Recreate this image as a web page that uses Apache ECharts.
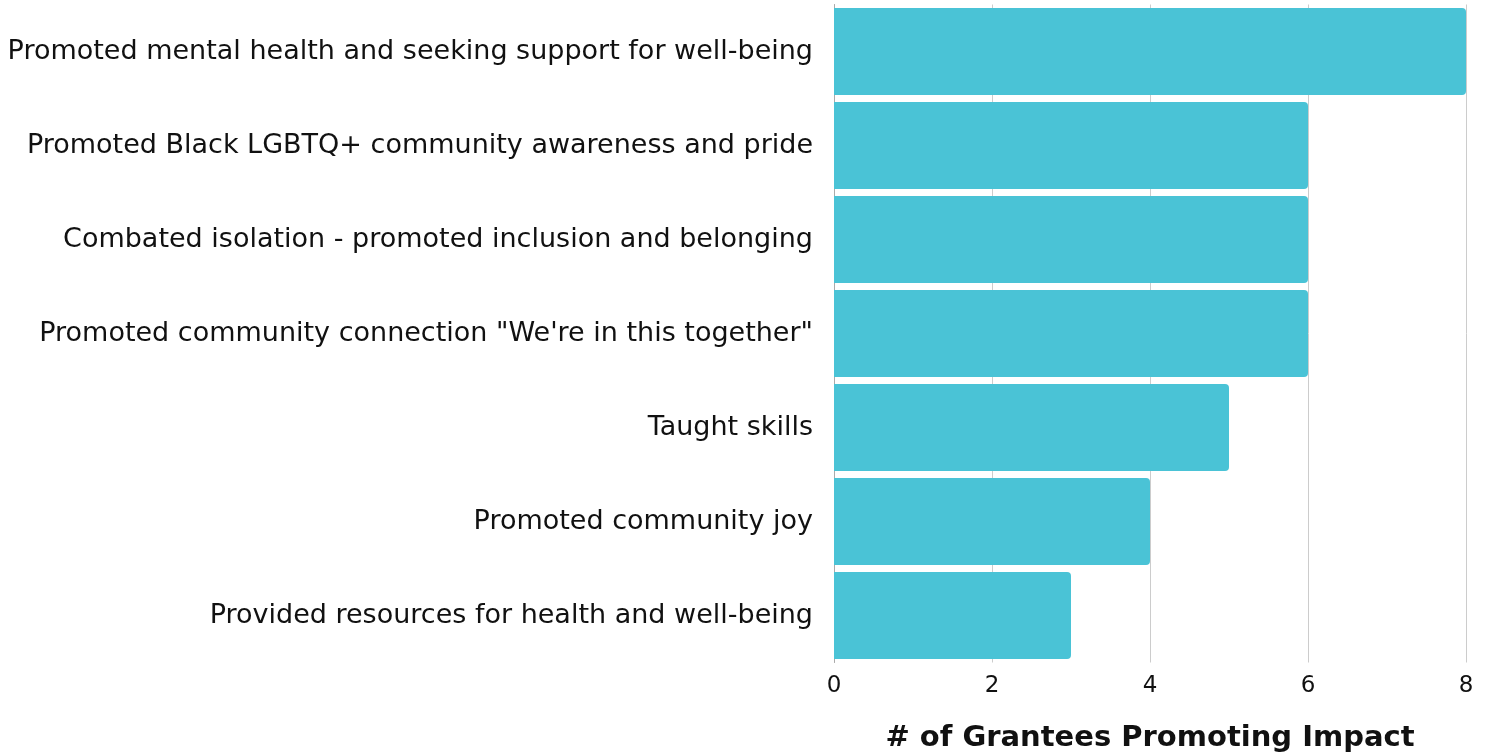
<!DOCTYPE html>
<html><head><meta charset="utf-8">
<script src="https://cdn.jsdelivr.net/npm/echarts@6/dist/echarts.min.js"></script>
<style>html,body{margin:0;padding:0;background:#fff}#c{width:1489px;height:755px}</style>
</head><body><div id="c"></div>
<script>
const categories = [
  "Promoted mental health and seeking support for well-being",
  "Promoted Black LGBTQ+ community awareness and pride",
  "Combated isolation - promoted inclusion and belonging",
  "Promoted community connection \"We're in this together\"",
  "Taught skills",
  "Promoted community joy",
  "Provided resources for health and well-being"
];
const values = [8, 6, 6, 6, 5, 4, 3];
const xTicks = [0, 2, 4, 6, 8];
const axisTitle = "# of Grantees Promoting Impact";

const FONT = "DejaVu Sans";
const chart = echarts.init(document.getElementById('c'), null, {renderer: 'canvas'});
chart.setOption({
  animation: false,
  backgroundColor: '#fff',
  grid: {left: 834, right: 23, top: 4.5, bottom: 92.5, containLabel: false, outerBoundsMode: 'none'},
  xAxis: {
    type: 'value', min: xTicks[0], max: xTicks[xTicks.length-1], interval: 2,
    name: axisTitle, nameLocation: 'middle', nameGap: 61,
    nameTextStyle: {fontFamily: FONT, fontWeight: 'bold', fontSize: 29, color: '#111'},
    axisLine: {show: false}, axisTick: {show: false},
    axisLabel: {fontFamily: FONT, fontSize: 23, color: '#111', margin: 12},
    splitLine: {show: true, lineStyle: {color: '#cccccc', width: 1}}
  },
  yAxis: {
    type: 'category', data: categories, inverse: true,
    axisLine: {show: true, lineStyle: {color: '#aaaaaa', width: 1}},
    axisTick: {show: false},
    axisLabel: {fontFamily: FONT, fontSize: 27, color: '#111', margin: 21}
  },
  series: [{
    type: 'bar', data: values, barCategoryGap: '7.5%',
    itemStyle: {color: '#4ac3d6', borderRadius: [0, 4, 4, 0]}
  }]
});
</script></body></html>
